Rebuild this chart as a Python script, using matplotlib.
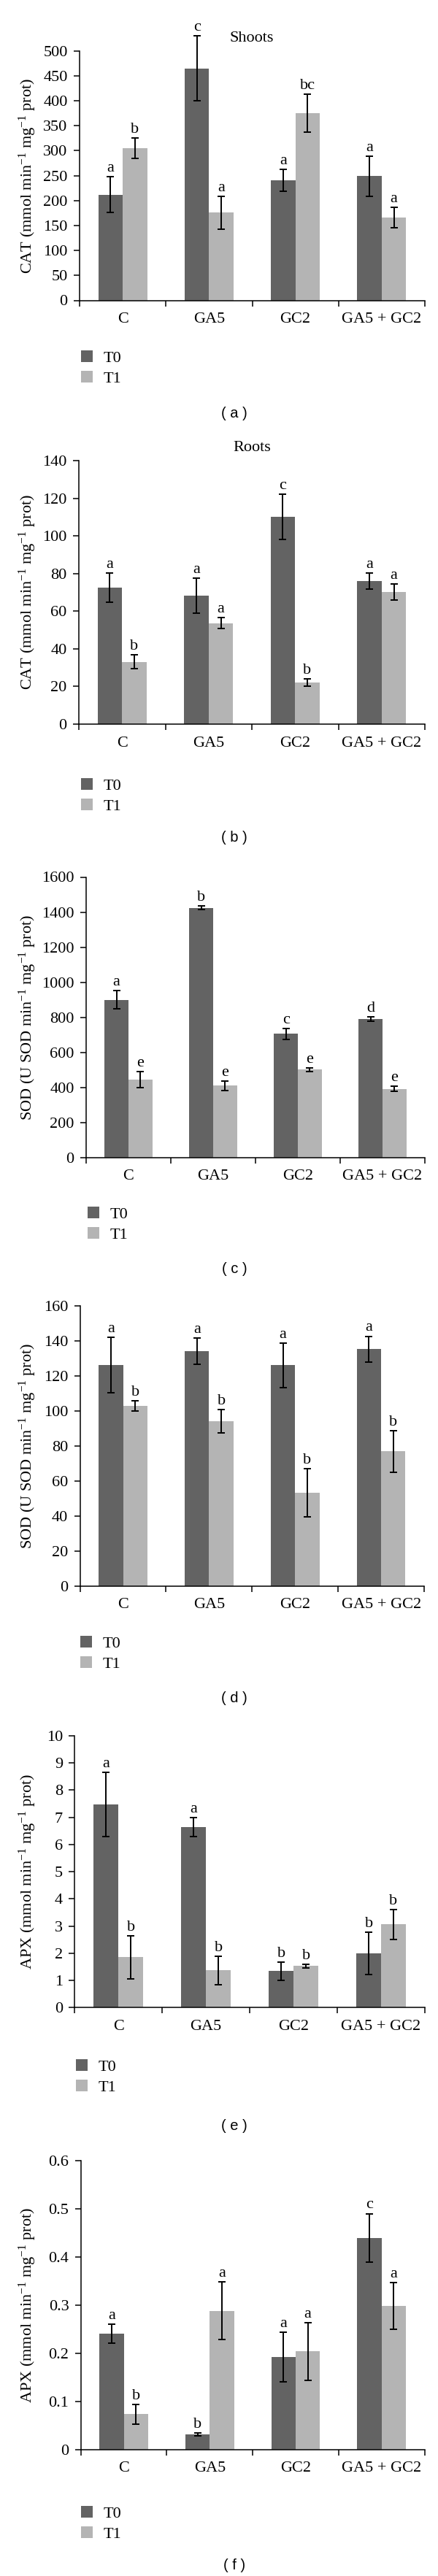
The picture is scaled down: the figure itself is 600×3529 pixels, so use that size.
import numpy as np
import matplotlib
matplotlib.use("Agg")
import matplotlib.pyplot as plt
from matplotlib.ticker import FuncFormatter

plt.rcParams.update({
    "font.family": ["Liberation Serif", "DejaVu Serif"],
    "mathtext.fontset": "custom",
    "mathtext.rm": "Liberation Serif",
    "mathtext.it": "Liberation Serif:italic",
    "mathtext.bf": "Liberation Serif:bold",
    "font.size": 16,
})

W, H = 600, 3529
FS = 16

# DATA
categories = ["C", "GA5", "GC2", "GA5 + GC2"]
series = ["T0", "T1"]

cat_shoots_t0 = [212, 465, 241, 249]
cat_shoots_t0_err = [36, 65, 22, 40]
cat_shoots_t1 = [305, 176, 375, 166]
cat_shoots_t1_err = [20, 33, 38, 21]
cat_shoots_let_t0 = ["a", "c", "a", "a"]
cat_shoots_let_t1 = ["b", "a", "bc", "a"]

cat_roots_t0 = [72.6, 68.4, 110, 76.0]
cat_roots_t0_err = [7.7, 9.3, 12, 4.3]
cat_roots_t1 = [33.1, 53.7, 22.1, 70.2]
cat_roots_t1_err = [3.7, 3.0, 2.0, 4.1]
cat_roots_let_t0 = ["a", "a", "c", "a"]
cat_roots_let_t1 = ["b", "a", "b", "a"]

sod_c_t0 = [900, 1424, 706, 790]
sod_c_t0_err = [51, 11, 31, 12]
sod_c_t1 = [445, 410, 501, 392]
sod_c_t1_err = [47, 28, 10, 15]
sod_c_let_t0 = ["a", "b", "c", "d"]
sod_c_let_t1 = ["e", "e", "e", "e"]

sod_d_t0 = [126.2, 133.9, 126.0, 135.3]
sod_d_t0_err = [15.7, 7.5, 12.7, 7.3]
sod_d_t1 = [102.8, 94.0, 53.2, 76.8]
sod_d_t1_err = [2.8, 6.7, 13.9, 11.9]
sod_d_let_t0 = ["a", "a", "a", "a"]
sod_d_let_t1 = ["b", "b", "b", "b"]

apx_e_t0 = [7.47, 6.64, 1.34, 2.0]
apx_e_t0_err = [1.17, 0.35, 0.33, 0.78]
apx_e_t1 = [1.85, 1.37, 1.53, 3.06]
apx_e_t1_err = [0.79, 0.52, 0.07, 0.55]
apx_e_let_t0 = ["a", "a", "b", "b"]
apx_e_let_t1 = ["b", "b", "b", "b"]

apx_f_t0 = [0.241, 0.0315, 0.192, 0.440]
apx_f_t0_err = [0.020, 0.003, 0.052, 0.050]
apx_f_t1 = [0.0735, 0.288, 0.204, 0.2985]
apx_f_t1_err = [0.020, 0.060, 0.060, 0.048]
apx_f_let_t0 = ["a", "b", "a", "c"]
apx_f_let_t1 = ["b", "a", "a", "a"]

CAT_LABEL = r"CAT (mmol min$^{-1}$ mg$^{-1}$ prot)"
SOD_LABEL = r"SOD (U SOD min$^{-1}$ mg$^{-1}$ prot)"
APX_LABEL = r"APX (mmol min$^{-1}$ mg$^{-1}$ prot)"

# box = left, right, top, bottom of the axes in pixels
PANELS = [
    dict(t0=cat_shoots_t0, e0=cat_shoots_t0_err, t1=cat_shoots_t1, e1=cat_shoots_t1_err,
         l0=cat_shoots_let_t0, l1=cat_shoots_let_t1, ylabel=CAT_LABEL, title="Shoots",
         box=(109, 582, 69.6, 411.5), ymax=500, ystep=50, legend_y=490, leg_x=111,
         cap="( a )", cap_y=567),
    dict(t0=cat_roots_t0, e0=cat_roots_t0_err, t1=cat_roots_t1, e1=cat_roots_t1_err,
         l0=cat_roots_let_t0, l1=cat_roots_let_t1, ylabel=CAT_LABEL, title="Roots",
         box=(108, 582, 631, 992), ymax=140, ystep=20, legend_y=1076, leg_x=111,
         cap="( b )", cap_y=1147),
    dict(t0=sod_c_t0, e0=sod_c_t0_err, t1=sod_c_t1, e1=sod_c_t1_err,
         l0=sod_c_let_t0, l1=sod_c_let_t1, ylabel=SOD_LABEL, title=None,
         box=(118, 582, 1201.5, 1585.8), ymax=1600, ystep=200, legend_y=1663, leg_x=120,
         cap="( c )", cap_y=1738),
    dict(t0=sod_d_t0, e0=sod_d_t0_err, t1=sod_d_t1, e1=sod_d_t1_err,
         l0=sod_d_let_t0, l1=sod_d_let_t1, ylabel=SOD_LABEL, title=None,
         box=(109.6, 581, 1788.8, 2172.7), ymax=160, ystep=20, legend_y=2251, leg_x=110,
         cap="( d )", cap_y=2327),
    dict(t0=apx_e_t0, e0=apx_e_t0_err, t1=apx_e_t1, e1=apx_e_t1_err,
         l0=apx_e_let_t0, l1=apx_e_let_t1, ylabel=APX_LABEL, title=None,
         box=(102.3, 582, 2377.7, 2750.4), ymax=10, ystep=1, legend_y=2831, leg_x=104,
         cap="( e )", cap_y=2912),
    dict(t0=apx_f_t0, e0=apx_f_t0_err, t1=apx_f_t1, e1=apx_f_t1_err,
         l0=apx_f_let_t0, l1=apx_f_let_t1, ylabel=APX_LABEL, title=None,
         box=(110.8, 581.5, 2960, 3355.8), ymax=0.6, ystep=0.1, legend_y=3443, leg_x=111,
         cap="( f )", cap_y=3515),
]

DARK = "#636363"
LIGHT = "#b4b4b4"
BAR_W = 0.283

fig = plt.figure(figsize=(W / 100, H / 100), dpi=100)

x = np.arange(len(categories))

for p in PANELS:
    left, right, top, bottom = p["box"]
    ax = fig.add_axes([left / W, 1 - bottom / H, (right - left) / W, (bottom - top) / H])

    b0 = ax.bar(x - BAR_W / 2, p["t0"], BAR_W, color=DARK, label=series[0], zorder=2)
    b1 = ax.bar(x + BAR_W / 2, p["t1"], BAR_W, color=LIGHT, label=series[1], zorder=2)
    for xs, ys, es, lets in [(x - BAR_W / 2, p["t0"], p["e0"], p["l0"]),
                             (x + BAR_W / 2, p["t1"], p["e1"], p["l1"])]:
        eb = ax.errorbar(xs, ys, yerr=es, fmt="none", ecolor="black",
                         elinewidth=1.4, capsize=3.8, capthick=1.4, zorder=3)
        for part in eb.lines[1] + eb.lines[2]:
            part.set_clip_on(False)
        for xi, yi, ei, t in zip(xs, ys, es, lets):
            ax.annotate(t, (xi, yi + ei), xytext=(0, 1.5), textcoords="offset points",
                        ha="center", va="bottom", fontsize=FS, annotation_clip=False)

    ax.set_xlim(-0.5, len(categories) - 0.5)
    ax.set_ylim(0, p["ymax"])
    ax.set_yticks(np.arange(0, p["ymax"] + p["ystep"] / 2, p["ystep"]))
    ax.yaxis.set_major_formatter(FuncFormatter(lambda v, pos: f"{v:g}"))

    # boundary ticks between groups, labels centred under each group
    ax.set_xticks(np.arange(-0.5, len(categories), 1.0))
    ax.set_xticklabels([])
    ax.set_xticks(x, minor=True)
    ax.set_xticklabels(categories, minor=True)
    ax.tick_params(axis="x", which="minor", length=0, pad=12, labelsize=FS)
    ax.tick_params(axis="x", which="major", length=5.8, width=1.1, direction="out")
    ax.tick_params(axis="y", length=5.8, width=1.1, direction="out", pad=6, labelsize=FS)

    for s in ["top", "right"]:
        ax.spines[s].set_visible(False)
    for s in ["left", "bottom"]:
        ax.spines[s].set_linewidth(1.1)

    fig.text(38 / W, 1 - (top + bottom) / 2 / H, p["ylabel"], rotation=90,
             ha="center", va="center", fontsize=FS)

    if p["title"]:
        fig.text(345 / W, 1 - (top - 17) / H, p["title"], ha="center", va="center", fontsize=FS)

    ax.legend(handles=[b0, b1], loc="center left",
              bbox_to_anchor=(p["leg_x"] / W, 1 - (p["legend_y"] + 14.5) / H),
              bbox_transform=fig.transFigure, frameon=False, fontsize=FS,
              handlelength=0.72, handleheight=0.72, handletextpad=0.65,
              labelspacing=0.3, borderpad=0, borderaxespad=0)

    fig.text(321 / W, 1 - p["cap_y"] / H, p["cap"], ha="center", va="center",
             fontsize=14.5, family=["Liberation Sans", "DejaVu Sans"])

fig.savefig("out.png", dpi=100)
